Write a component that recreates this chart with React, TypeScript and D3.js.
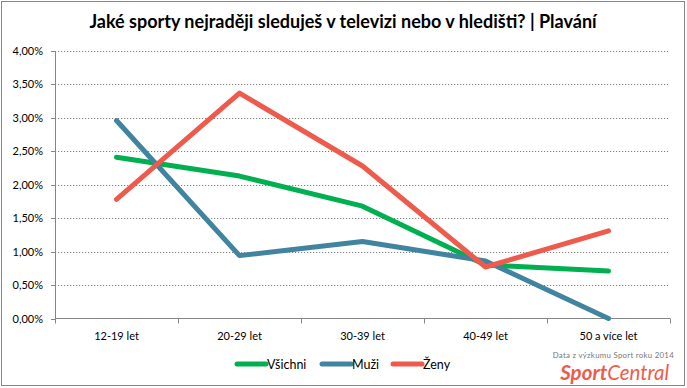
import React from "react";
import * as d3 from "d3";

const categories = ["12-19 let", "20-29 let", "30-39 let", "40-49 let", "50 a více let"];
const seriesNames = ["Všichni", "Muži", "Ženy"];
const vsichni = [2.41, 2.13, 1.68, 0.8, 0.71];
const muzi = [2.96, 0.94, 1.15, 0.86, 0.0];
const zeny = [1.78, 3.37, 2.28, 0.77, 1.31];
const yTicks = [0, 0.5, 1, 1.5, 2, 2.5, 3, 3.5, 4];
const colors = ["#00B050", "#41849F", "#EE5B4C"];

const W = 687, H = 388;
const left = 55, right = 670, top = 51, bottom = 318.5;
const font = "Lato, 'Open Sans', sans-serif";

export default function App() {
  const x = d3.scaleBand<string>().domain(categories).range([left, right]);
  const y = d3.scaleLinear().domain([0, 4]).range([bottom, top]);
  const line = d3.line<number>()
    .x((_, i) => (x(categories[i]) as number) + x.bandwidth() / 2)
    .y((d) => y(d));
  const data = [vsichni, muzi, zeny];
  const fmt = (v: number) => v.toFixed(2).replace(".", ",") + "%";
  const boundaries = categories.map((c) => x(c) as number).concat([right]);
  const legendX = [237, 322, 393];

  return (
    <svg width={W} height={H} style={{ position: "absolute", left: 0, top: 0 }}>
      <rect x={0} y={0} width={W} height={H} fill="#fff" />
      <rect x={1.5} y={1.5} width={683} height={384} fill="none" stroke="#878787" strokeWidth={1} />
      <text x={343} y={28} textAnchor="middle" fontFamily={font} fontWeight="bold" fontSize={18} fill="#000">
        Jaké sporty nejraději sleduješ v televizi nebo v hledišti? | Plavání
      </text>
      {yTicks.slice(1).map((t) => (
        <line key={t} x1={left} x2={right} y1={Math.round(y(t)) + 0.5} y2={Math.round(y(t)) + 0.5}
          stroke="#808080" strokeWidth={1} strokeDasharray="1.2,1.8" />
      ))}
      <line x1={left + 0.5} x2={left + 0.5} y1={top} y2={bottom} stroke="#868686" />
      <line x1={left} x2={right} y1={bottom} y2={bottom} stroke="#868686" />
      {yTicks.map((t) => (
        <g key={t}>
          <line x1={left - 4} x2={left} y1={Math.round(y(t)) + 0.5} y2={Math.round(y(t)) + 0.5} stroke="#868686" />
          <text x={43} y={y(t) + 4} textAnchor="end" fontFamily={font} fontSize={11} fill="#000">{fmt(t)}</text>
        </g>
      ))}
      {boundaries.map((b, i) => (
        <line key={i} x1={b + 0.5} x2={b + 0.5} y1={bottom} y2={bottom + 5} stroke="#868686" />
      ))}
      {categories.map((c) => (
        <text key={c} x={(x(c) as number) + x.bandwidth() / 2} y={340} textAnchor="middle" fontFamily={font} fontSize={11} fill="#000">{c}</text>
      ))}
      {data.map((d, i) => (
        <path key={i} d={line(d) as string} fill="none" stroke={colors[i]} strokeWidth={5} strokeLinecap="round" strokeLinejoin="round" />
      ))}
      {seriesNames.map((n, i) => (
        <g key={n}>
          <line x1={legendX[i]} x2={legendX[i] + 29} y1={364} y2={364} stroke={colors[i]} strokeWidth={5} strokeLinecap="round" />
          <text x={legendX[i] + 30} y={368.5} fontFamily={font} fontSize={12.5} fill="#000">{n}</text>
        </g>
      ))}
      <text x={674} y={358} textAnchor="end" fontFamily={font} fontSize={7.8} fill="#777" letterSpacing={0.3}>Data z výzkumu Sport roku 2014</text>
      <text x={669} y={380} textAnchor="end" fontFamily={font} fontSize={20.5} fontWeight="bold" fontStyle="italic" fill="#EE5B4C">
        <tspan>Sport</tspan><tspan fontWeight="normal">Central</tspan>
      </text>
    </svg>
  );
}
